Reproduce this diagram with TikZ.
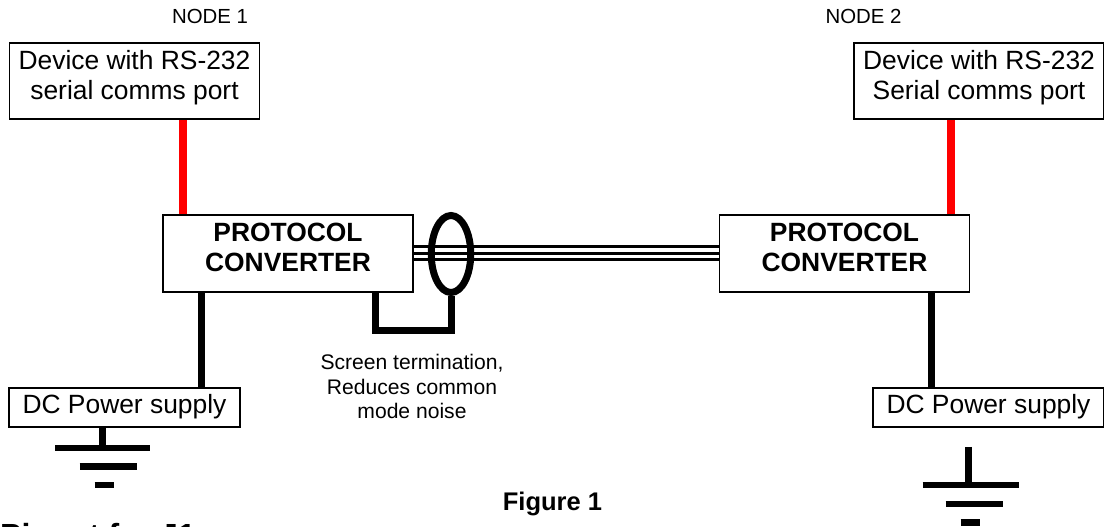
\documentclass[tikz,border=0pt]{standalone}
\usepackage{fontspec}
\setmainfont{Liberation Sans}
\usetikzlibrary{positioning, shapes.geometric}
\tikzset{
devbox/.style={draw, line width=1.6pt, fill=white, minimum width=250pt, minimum height=76.5pt, align=center, font=\fontsize{26.4}{30}\selectfont, inner sep=0pt, text depth=13pt}, % boxes with two lines of text
convbox/.style={devbox, font=\fontsize{26.4}{30}\selectfont\bfseries, text depth=12pt},
dcbox/.style={devbox, minimum width=231pt, minimum height=39pt, text depth=7.6pt},
redwire/.style={red, line width=8pt},
blackwire/.style={black, line width=7pt},
thinwire/.style={black, line width=3pt},
gndbar/.style={black, line width=6.5pt},
smalltext/.style={font=\fontsize{20.4}{24}\selectfont, inner sep=0pt},
}
\begin{document}
\begin{tikzpicture}[x=1pt, y=1pt]
    \useasboundingbox (0,0) rectangle (1104,527);

    % NODE 1
    \node[devbox] at (134.5,446) (dev1) {Device with RS-232\\serial comms port};
    \node[smalltext, above of=dev1, node distance=65pt, xshift=75.5pt] (label1) {NODE 1};
    \node[convbox] at (288,273.5) (conv1) {PROTOCOL\\CONVERTER};
    \node[dcbox] at (124.5,119.5) (dc1) {DC Power supply};
    \draw[redwire] ([xshift=-105.5pt]conv1.north) -- ([xshift=-105.5pt]conv1.north |- dev1.south);
    \draw[blackwire] ([xshift=-86.5pt]conv1.south) -- ([xshift=-86.5pt]conv1.south |- dc1.north);
    \draw[blackwire] ([xshift=-22pt]dc1.south) -- ++(0,-20pt) coordinate (gnd1);
    \draw[gndbar]
    ([xshift=-47.5pt]gnd1) -- ++(95pt,0)
    ([xshift=-23pt,yshift=-18.5pt]gnd1) -- ++(57.5pt,0)
    ([xshift=-8pt,yshift=-37pt]gnd1) -- ++(19pt,0);

    % NODE 2
    \node[convbox, right of=conv1, node distance=556.5pt] (conv2) {PROTOCOL\\CONVERTER};
    \node[devbox, right of=dev1, node distance=844.5pt] (dev2) {Device with RS-232\\Serial comms port};
    \node[smalltext, above of=dev2, node distance=65pt, xshift=-115.5pt] (label2) {NODE 2};
    \node[dcbox, right of=dc1, node distance=864pt] (dc2) {DC Power supply};
    \draw[redwire] ([xshift=106pt]conv2.north) -- ([xshift=106pt]conv2.north |- dev2.south);
    \draw[blackwire] ([xshift=86.5pt]conv2.south) -- ([xshift=86.5pt]conv2.south |- dc2.north);
    \coordinate (top2) at (968.5,80);
    \coordinate (gnd2) at (968.5,42);
    \draw[blackwire] (top2) -- (gnd2);
    \draw[gndbar]
    ([xshift=-46pt]gnd2) -- ++(96pt,0)
    ([xshift=-23pt,yshift=-19pt]gnd2) -- ++(57.5pt,0)
    ([xshift=-8pt,yshift=-37.5pt]gnd2) -- ++(19.5pt,0);

    % Cable between converters
    \draw[thinwire]
    ([yshift=6.5pt]conv1.east) -- ([yshift=6.5pt]conv2.west)
    (conv1.east) -- (conv2.west)
    ([yshift=-6.5pt]conv1.east) -- ([yshift=-6.5pt]conv2.west);
    \node[ellipse, draw, line width=7pt, minimum width=39.5pt, minimum height=77pt, inner sep=0pt] at (451,273) (ring) {};
    \draw[blackwire] ([xshift=87pt]conv1.south) |- (ring.south |- 0,196.5) -- (ring.south);
    \node[smalltext, font=\fontsize{21.1}{24.5}\selectfont, align=center] at (412,140.5) (screen) {Screen termination,\\Reduces common\\mode noise};

    % Captions
    \node[smalltext, font=\fontsize{25.5}{30}\selectfont\bfseries] at (552.5,23.5) (fig) {Figure 1};
    \node[smalltext, font=\fontsize{32}{38}\selectfont\bfseries, anchor=base west] at (0,-19.5) (pinout) {Pinout for J1};
\end{tikzpicture}
\end{document}
